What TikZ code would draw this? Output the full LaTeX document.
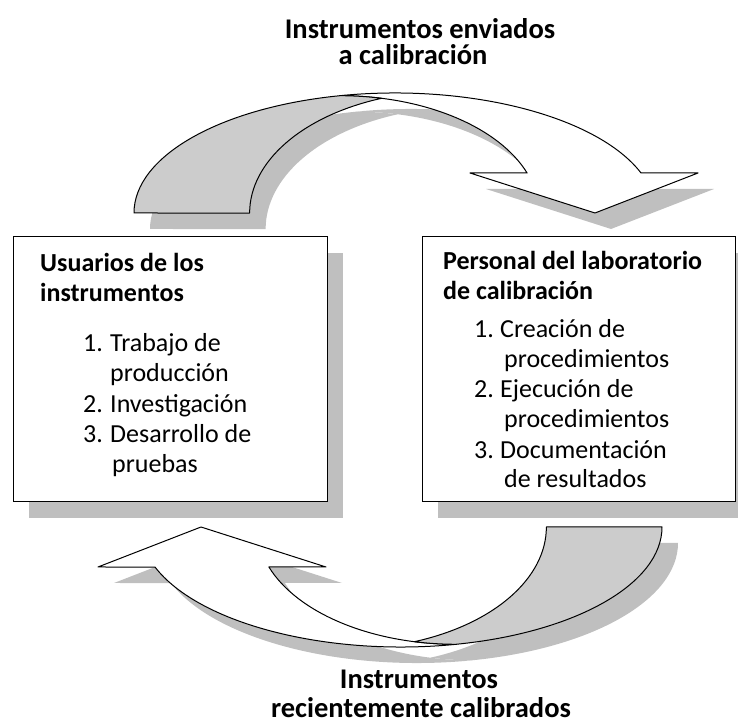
\documentclass[tikz,border=0pt]{standalone}
\usepackage{fontspec}
\setmainfont{Carlito}
\usetikzlibrary{calc}
\definecolor{shadowgray}{gray}{0.75}
\definecolor{backgray}{gray}{0.80}
\tikzset{
  shadowfill/.style={fill=shadowgray,draw=none},
  backpart/.style={fill=backgray,draw=black,line width=1pt,line join=round},
  frontpart/.style={fill=white,draw=black,line width=1pt,line join=round},
  boxframe/.style={draw=black,line width=1.3pt,fill=white},
  boxtitle/.style={anchor=base west,inner sep=0pt,font=\fontsize{26}{30}\selectfont\bfseries},
  boxitem/.style={anchor=base west,inner sep=0pt,font=\fontsize{26}{30}\selectfont},
  outertitle/.style={anchor=base,inner sep=0pt,font=\fontsize{28.5}{32}\selectfont\bfseries}
}
% curved arrow: #1 style of the back (gray) part, #2 style of the front (white) part
\newcommand\curvedarrowshape[2]{%
  \path[#2] (339.8,629.3) arc[start angle=102.2,end angle=19.47,x radius=261pt,y radius=120pt]
     -- (698,552) -- (595,512) -- (470,552) -- (527.1,552)
     arc[start angle=19.94,end angle=90,x radius=199pt,y radius=117.3pt] -- cycle;
  \path[#1] (134,512) arc[start angle=180,end angle=102.2,x radius=261pt,y radius=120pt]
     arc[start angle=90,end angle=77.9,x radius=199pt,y radius=117.3pt]
     arc[start angle=109.9,end angle=180,x radius=200pt,y radius=122pt] -- cycle;
}
\begin{document}
\begin{tikzpicture}[x=1pt,y=1pt]
\useasboundingbox (0,0) rectangle (738,725);
% shadows
\begin{scope}[shift={(16,-16)}]
  \curvedarrowshape{shadowfill}{shadowfill}
  \begin{scope}[rotate around={180:(398,355)}]
    \curvedarrowshape{shadowfill}{shadowfill}
  \end{scope}
  \fill[shadowgray] (13,223) rectangle (327,488);
  \fill[shadowgray] (422,223) rectangle (735,488);
\end{scope}
% arrows
\curvedarrowshape{backpart}{frontpart}
\begin{scope}[rotate around={180:(398,355)}]
  \curvedarrowshape{backpart}{frontpart}
\end{scope}
% boxes
\node[boxframe,minimum width=314pt,minimum height=265pt,inner sep=0pt,anchor=south west] (usr) at (13,223) {};
\node[boxframe,minimum width=313pt,minimum height=265pt,inner sep=0pt,anchor=south west] (lab) at (422,223) {};
% left box text
\node[boxtitle] (usrt1) at (40,453) {Usuarios de los};
\node[boxtitle] (usrt2) at (40,423) {instrumentos};
\node[boxitem] (usrn1) at (83,373) {1.};
\node[boxitem] (usri1) at (110,373) {Trabajo de};
\node[boxitem] (usri1b) at (110,343) {producción};
\node[boxitem] (usrn2) at (83,312) {2.};
\node[boxitem] (usri2) at (110,312) {Investigación};
\node[boxitem] (usrn3) at (83,282) {3.};
\node[boxitem] (usri3) at (110,282) {Desarrollo de};
\node[boxitem] (usri3b) at (112,252) {pruebas};
% right box text
\node[boxtitle] (labt1) at (443,455) {Personal del laboratorio};
\node[boxtitle] (labt2) at (443,425) {de calibración};
\node[boxitem] (labn1) at (474,387) {1.};
\node[boxitem] (labi1) at (500,387) {Creación de};
\node[boxitem] (labi1b) at (504,357) {procedimientos};
\node[boxitem] (labn2) at (474,327) {2.};
\node[boxitem] (labi2) at (500,327) {Ejecución de};
\node[boxitem] (labi2b) at (504,297) {procedimientos};
\node[boxitem] (labn3) at (474,266) {3.};
\node[boxitem] (labi3) at (500,266) {Documentación};
\node[boxitem] (labi3b) at (504,237) {de resultados};
% outer titles
\node[outertitle] (topt1) at (420,686) {Instrumentos enviados};
\node[outertitle] (topt2) at (413,660) {a calibración};
\node[outertitle] (bott1) at (419,37) {Instrumentos};
\node[outertitle] (bott2) at (421,8) {recientemente calibrados};
\end{tikzpicture}
\end{document}
